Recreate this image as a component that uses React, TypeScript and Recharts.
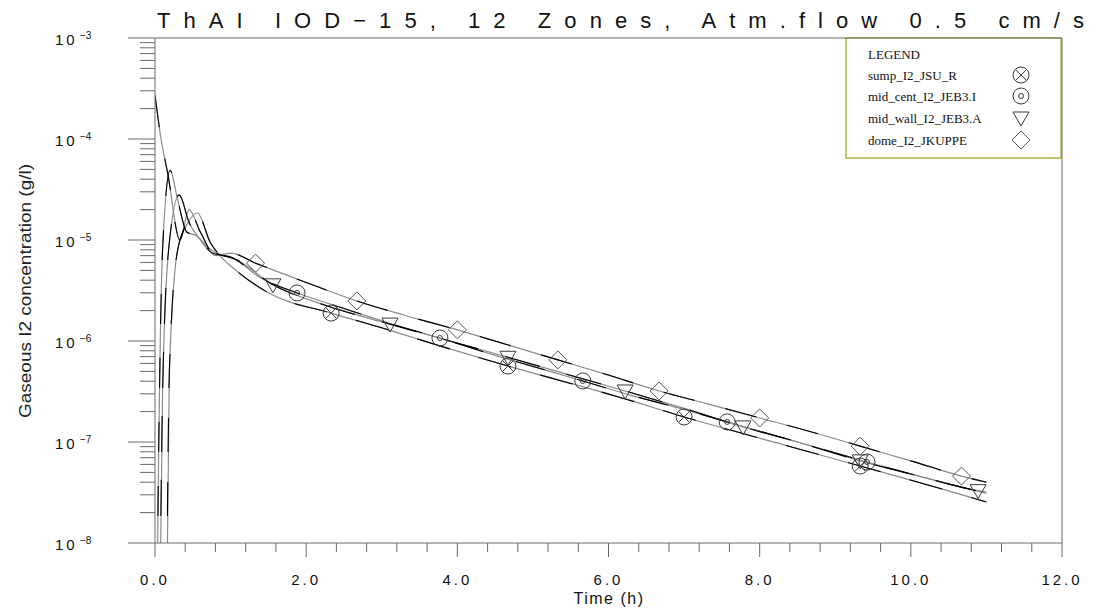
import React from 'react';
import { LineChart, Line, XAxis, YAxis, ReferenceLine, Customized } from 'recharts';

// ---------- axis ticks ----------
const X_TICKS = [0, 0.4, 0.8, 1.2, 1.6, 2, 2.4, 2.8, 3.2, 3.6, 4, 4.4, 4.8, 5.2, 5.6, 6, 6.4, 6.8, 7.2, 7.6, 8, 8.4, 8.8, 9.2, 9.6, 10, 10.4, 10.8, 11.2, 11.6, 12];
const X_LABELS = ['0.0', '2.0', '4.0', '6.0', '8.0', '10.0', '12.0'];
const Y_DECADES = [1e-8, 1e-7, 1e-6, 1e-5, 1e-4, 1e-3];
const Y_EXPONENTS = ['\u22128', '\u22127', '\u22126', '\u22125', '\u22124', '\u22123'];
const Y_MINOR_MULT = [2, 3, 4, 5, 6, 7, 8, 9];

const TITLE = 'ThAI IOD\u221215, 12 Zones, Atm.flow 0.5 cm/s';
const X_TITLE = 'Time (h)';
const Y_TITLE = 'Gaseous I2 concentration (g/l)';

// ---------- series ----------
const DOME_T = [0, 0.08, 0.17, 0.33, 0.45, 0.6, 0.8, 1.0, 1.33, 2.0, 2.67, 3.3, 4.0, 4.7, 5.33, 6.0, 6.67, 7.3, 8.0, 8.7, 9.33, 10.0, 10.67, 11.0];
const DOME_V = [2.7e-4, 1.0e-4, 4.5e-5, 1.0e-5, 2.0e-5, 1.2e-5, 7.0e-6, 7.4e-6, 5.9e-6, 3.8e-6, 2.49e-6, 1.8e-6, 1.29e-6, 9.0e-7, 6.5e-7, 4.6e-7, 3.2e-7, 2.4e-7, 1.73e-7, 1.25e-7, 9.1e-8, 6.5e-8, 4.6e-8, 4.0e-8];
const DOME_M = [1.33, 2.67, 4.0, 5.33, 6.67, 8.0, 9.33, 10.67];

const CENT_T = [0.02, 0.05, 0.1, 0.2, 0.3, 0.42, 0.55, 0.7, 0.85, 1.0, 1.4, 1.88, 2.5, 3.1, 3.77, 4.5, 5.0, 5.66, 6.3, 7.0, 7.57, 8.5, 9.42, 10.2, 11.0];
const CENT_V = [1e-9, 1e-7, 8e-6, 4.9e-5, 2.5e-5, 1.2e-5, 1.1e-5, 8.5e-6, 7.2e-6, 6.8e-6, 4.2e-6, 2.99e-6, 2.1e-6, 1.5e-6, 1.07e-6, 7.2e-7, 5.6e-7, 4.02e-7, 2.9e-7, 2.1e-7, 1.58e-7, 1.0e-7, 6.34e-8, 4.4e-8, 3.1e-8];
const CENT_M = [1.88, 3.77, 5.66, 7.57, 9.42];

const WALL_T = [0.06, 0.1, 0.18, 0.32, 0.45, 0.6, 0.75, 0.9, 1.05, 1.56, 2.3, 3.11, 3.9, 4.67, 5.4, 6.22, 7.0, 7.78, 8.5, 9.33, 10.1, 10.89, 11.0];
const WALL_V = [1e-9, 3e-7, 8e-6, 2.8e-5, 1.5e-5, 1.0e-5, 7.5e-6, 7.0e-6, 6.5e-6, 3.6e-6, 2.2e-6, 1.47e-6, 1.0e-6, 6.9e-7, 4.8e-7, 3.2e-7, 2.15e-7, 1.41e-7, 1.0e-7, 6.5e-8, 4.6e-8, 3.3e-8, 3.2e-8];
const WALL_M = [1.56, 3.11, 4.67, 6.22, 7.78, 9.33, 10.89];

const SUMP_T = [0.15, 0.19, 0.3, 0.44, 0.56, 0.73, 0.9, 1.1, 1.5, 2.33, 3.0, 3.8, 4.67, 5.5, 6.2, 7.0, 7.8, 8.6, 9.33, 10.2, 11.0];
const SUMP_V = [1e-9, 5e-7, 8e-6, 1.5e-5, 1.85e-5, 9.5e-6, 6.5e-6, 4.8e-6, 3.0e-6, 1.89e-6, 1.35e-6, 8.8e-7, 5.65e-7, 3.8e-7, 2.7e-7, 1.77e-7, 1.2e-7, 8.2e-8, 5.78e-8, 3.8e-8, 2.55e-8];
const SUMP_M = [2.33, 4.67, 7.0, 9.33];

const LEGEND_NAMES = ['sump_I2_JSU_R', 'mid_cent_I2_JEB3.I', 'mid_wall_I2_JEB3.A', 'dome_I2_JKUPPE'];

type Kind = 'cross' | 'dot' | 'tri' | 'diamond';

const build = (ts: number[], vs: number[], ms: number[]) =>
  ts.map((t, i) => ({ t, v: vs[i], m: ms.some((m) => Math.abs(m - t) < 1e-6) }));

const SERIES: { name: string; kind: Kind; data: { t: number; v: number; m: boolean }[]; dash: string }[] = [
  { name: LEGEND_NAMES[0], kind: 'cross', data: build(SUMP_T, SUMP_V, SUMP_M), dash: '34 30' },
  { name: LEGEND_NAMES[1], kind: 'dot', data: build(CENT_T, CENT_V, CENT_M), dash: '30 34' },
  { name: LEGEND_NAMES[2], kind: 'tri', data: build(WALL_T, WALL_V, WALL_M), dash: '36 28' },
  { name: LEGEND_NAMES[3], kind: 'diamond', data: build(DOME_T, DOME_V, DOME_M), dash: '32 32' },
];

const MARK = '#3a3a3a';
const AXIS = '#6a6a6a';
const FONT = '"Liberation Sans", Arial, sans-serif';

const Marker = ({ kind, cx, cy }: { kind: Kind; cx: number; cy: number }) => {
  const r = 8;
  if (kind === 'cross') {
    const d = r * 0.707;
    return (
      <g stroke={MARK} fill="none" strokeWidth={1}>
        <circle cx={cx} cy={cy} r={r} />
        <line x1={cx - d} y1={cy - d} x2={cx + d} y2={cy + d} />
        <line x1={cx - d} y1={cy + d} x2={cx + d} y2={cy - d} />
      </g>
    );
  }
  if (kind === 'dot') {
    return (
      <g stroke={MARK} fill="none" strokeWidth={1}>
        <circle cx={cx} cy={cy} r={r} />
        <circle cx={cx} cy={cy} r={2.5} />
      </g>
    );
  }
  if (kind === 'tri') {
    return (
      <path d={`M${cx - 8},${cy - 6} L${cx + 8},${cy - 6} L${cx},${cy + 8} Z`} stroke={MARK} fill="none" strokeWidth={1} />
    );
  }
  return (
    <path d={`M${cx},${cy - 9} L${cx + 9},${cy} L${cx},${cy + 9} L${cx - 9},${cy} Z`} stroke="#555" fill="none" strokeWidth={1} />
  );
};

const makeDot = (kind: Kind) => (props: any) => {
  const { cx, cy, payload, index } = props;
  if (!payload || !payload.m || cx == null || cy == null) return <g key={`e-${index}`} />;
  return (
    <g key={`m-${index}`}>
      <Marker kind={kind} cx={cx} cy={cy} />
    </g>
  );
};

const XTick = (props: any) => {
  const { x, y, payload } = props;
  const v = payload.value as number;
  const major = Math.abs(v / 2 - Math.round(v / 2)) < 1e-6;
  return (
    <g>
      <line x1={x} y1={y} x2={x} y2={y + (major ? 14 : 9)} stroke={AXIS} strokeWidth={1} />
      {major && (
        <text x={x} y={y + 42} textAnchor="middle" fontFamily={FONT} fontSize={15} letterSpacing={3} fill="#111">
          {X_LABELS[Math.round(v / 2)]}
        </text>
      )}
    </g>
  );
};

const YTick = (props: any) => {
  const { x, y, payload } = props;
  const v = payload.value as number;
  const di = Y_DECADES.findIndex((d) => Math.abs(d - v) / d < 1e-6);
  const major = di >= 0;
  return (
    <g>
      <line x1={x - (major ? 27 : 15)} y1={y} x2={x} y2={y} stroke={AXIS} strokeWidth={1} />
      {major && (
        <g fontFamily={FONT} fill="#111">
          <text x={x - 100} y={y + 7} fontSize={15} letterSpacing={3}>10</text>
          <text x={x - 75} y={y + 1} fontSize={10}>{Y_EXPONENTS[di]}</text>
        </g>
      )}
    </g>
  );
};

const Y_TICKS: number[] = [];
Y_DECADES.forEach((d, i) => {
  Y_TICKS.push(d);
  if (i < Y_DECADES.length - 1) Y_MINOR_MULT.forEach((m) => Y_TICKS.push(d * m));
});

const Overlay = () => {
  const lx = 846;
  const ly = 38;
  const rows = [80, 101, 123, 145];
  return (
    <g>
      <text x={157} y={28} fontFamily={FONT} fontSize={22} textLength={927} lengthAdjust="spacing" fill="#111">
        {TITLE}
      </text>
      <text x={609} y={604} textAnchor="middle" fontFamily={FONT} fontSize={16} letterSpacing={1.5} fill="#111">
        {X_TITLE}
      </text>
      <text
        transform="translate(31,291) rotate(-90)"
        textAnchor="middle"
        fontFamily={FONT}
        fontSize={16}
        textLength={254}
        lengthAdjust="spacingAndGlyphs"
        fill="#222"
      >
        {Y_TITLE}
      </text>
      <rect x={lx} y={ly} width={1061 - lx} height={120} fill="#fff" stroke="#b4b43c" strokeWidth={1.5} />
      <text x={868} y={59} fontFamily='"Liberation Serif", serif' fontSize={13} fill="#111">LEGEND</text>
      {SERIES.map((s, i) => (
        <g key={s.name}>
          <text x={868} y={rows[i]} fontFamily='"Liberation Serif", serif' fontSize={13} fill="#111">
            {s.name}
          </text>
          <Marker kind={s.kind} cx={1021} cy={rows[i] - 5} />
        </g>
      ))}
    </g>
  );
};

export default function App() {
  return (
    <div style={{ position: 'absolute', left: 0, top: 0, width: 1097, height: 608, background: '#fff' }}>
      <LineChart width={1097} height={608} margin={{ top: 38, right: 35, bottom: 0, left: 0 }}>
        <XAxis
          dataKey="t"
          type="number"
          domain={[0, 12]}
          ticks={X_TICKS}
          interval={0}
          allowDataOverflow
          height={65}
          tickSize={0}
          tickMargin={0}
          tickLine={false}
          axisLine={{ stroke: AXIS }}
          tick={<XTick />}
        />
        <YAxis
          type="number"
          scale="log"
          domain={[1e-8, 1e-3]}
          ticks={Y_TICKS}
          interval={0}
          allowDataOverflow
          width={155}
          tickSize={0}
          tickMargin={0}
          tickLine={false}
          axisLine={{ stroke: AXIS }}
          tick={<YTick />}
        />
        <ReferenceLine y={1e-3} stroke={AXIS} ifOverflow="visible" />
        <ReferenceLine x={12} stroke={AXIS} ifOverflow="visible" />
        {SERIES.map((s) => (
          <Line
            key={s.name + '-g'}
            data={s.data}
            dataKey="v"
            type="monotone"
            stroke="#8a8a8a"
            strokeWidth={1.2}
            dot={false}
            activeDot={false}
            isAnimationActive={false}
          />
        ))}
        {SERIES.map((s) => (
          <Line
            key={s.name + '-k'}
            data={s.data}
            dataKey="v"
            type="monotone"
            stroke="#000"
            strokeWidth={1.1}
            strokeDasharray={s.dash}
            dot={makeDot(s.kind)}
            activeDot={false}
            isAnimationActive={false}
          />
        ))}
        <Customized component={Overlay} />
      </LineChart>
    </div>
  );
}
